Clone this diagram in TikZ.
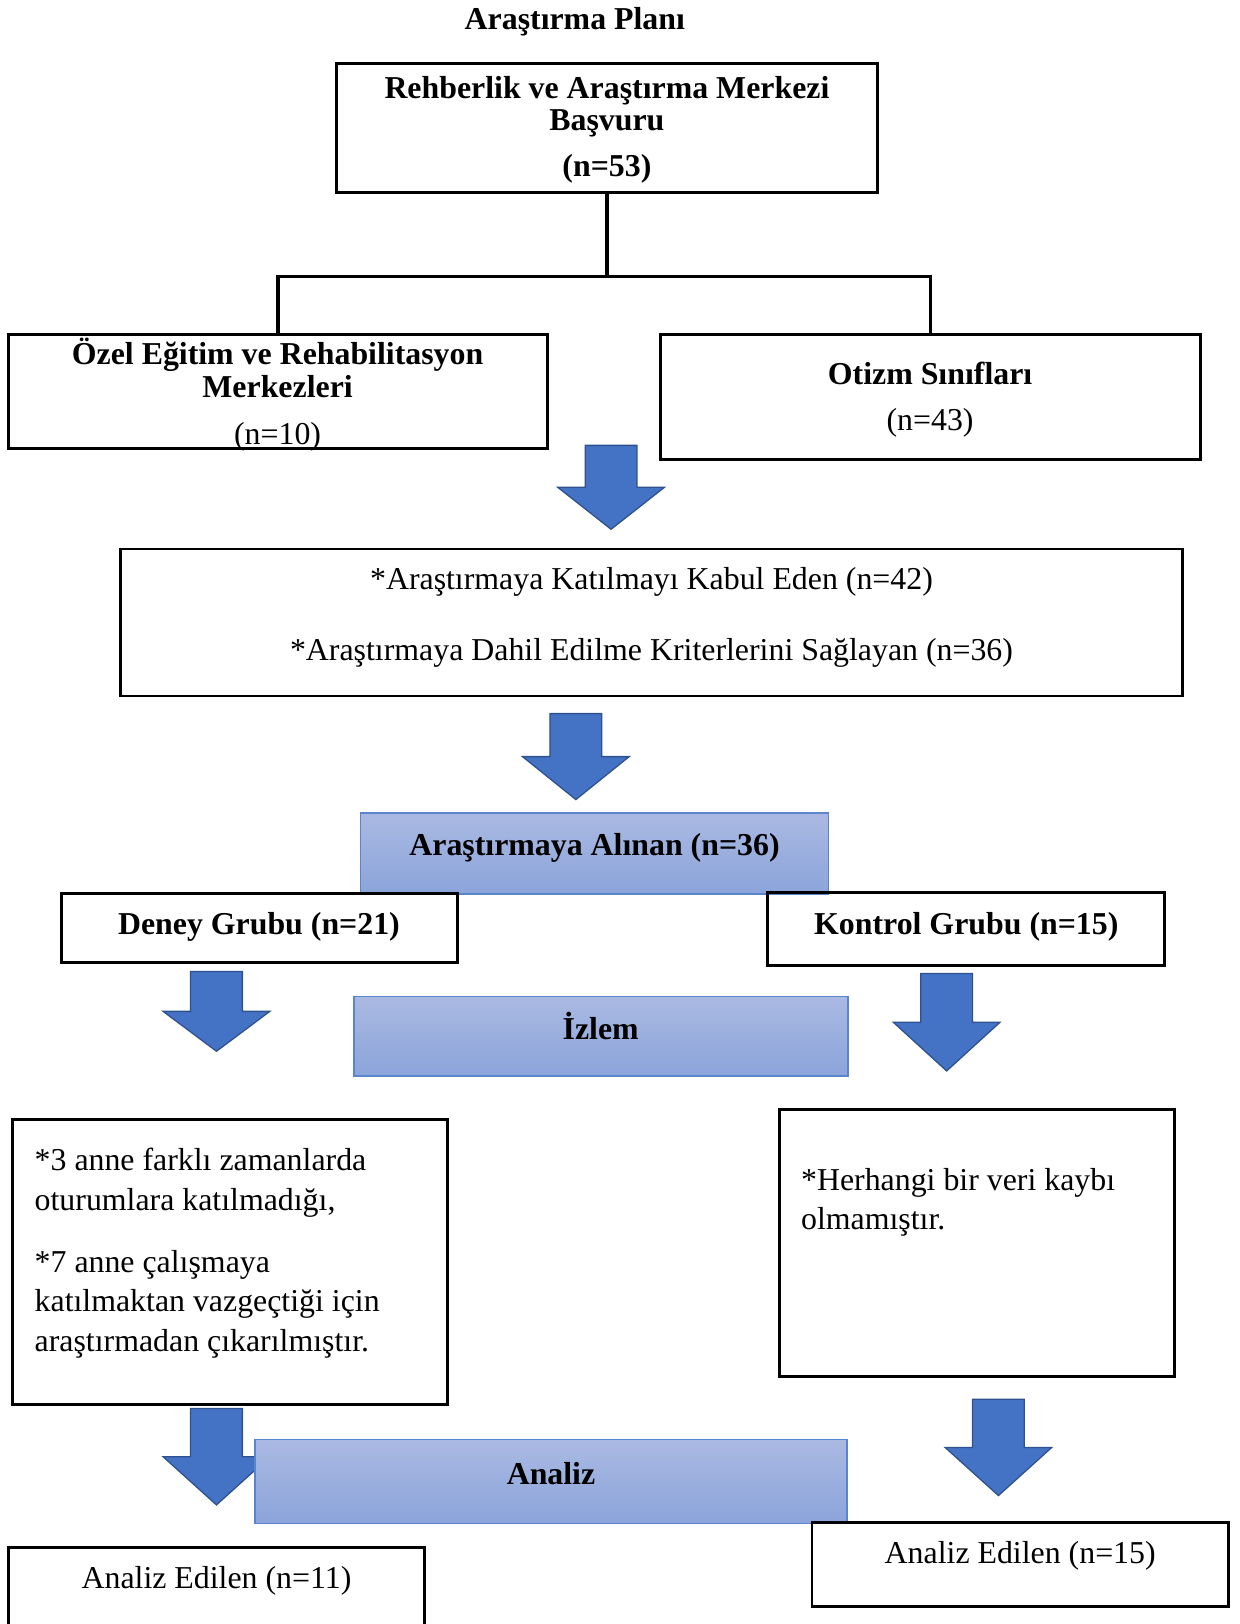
\documentclass[tikz,border=0pt]{standalone}
\usepackage{fontspec}
\setmainfont{Liberation Serif}
\usepackage{xcolor}
\usetikzlibrary{fit}

\definecolor{arrowblue}{HTML}{4472C4}
\definecolor{arrowedge}{HTML}{2F528F}
\definecolor{shadetop}{HTML}{AAB9E2}
\definecolor{shadebot}{HTML}{8BA4DA}
\definecolor{shadeedge}{HTML}{5B84CF}

\begin{document}
\begin{tikzpicture}[x=0.4pt,y=-0.4pt,font=\fontsize{12.3}{15.2}\selectfont]
  \tikzstyle{frame}=[draw,line width=1.1pt,inner sep=0pt]
  \tikzstyle{shaded}=[draw=shadeedge,line width=0.6pt,inner sep=0pt,top color=shadetop,bottom color=shadebot]
  \tikzstyle{blockarrow}=[fill=arrowblue,draw=arrowedge,line width=0.5pt]
  \tikzstyle{heading}=[font=\fontsize{12.3}{12.6}\selectfont\bfseries,align=center,inner sep=0pt]
  \tikzstyle{plain}=[font=\fontsize{12.3}{12.6}\selectfont,align=center,inner sep=0pt]
  \tikzstyle{notes}=[align=left,inner sep=0pt,anchor=west]
  \useasboundingbox (0,0) rectangle (1197,1568);

  % block arrows (drawn first, the Analiz band lies over one of them)
  \foreach \ax/\ay/\al in {590/430/81,556/689/83,209/938/77,914/940/94,209/1360/93,964/1351/93}
    \path[blockarrow] (\ax-25,\ay) -- (\ax+25,\ay) -- (\ax+25,\ay+\al/2) -- (\ax+51.5,\ay+\al/2)
      -- (\ax,\ay+\al) -- (\ax-51.5,\ay+\al/2) -- (\ax-25,\ay+\al/2) -- cycle;

  \node[heading] (plan) at (555,21) {Araştırma Planı};

  \node[frame,fit={(325,61) (847,186)}] (basvuru) {};
  \node[heading] (basvuruT) at (586,125) {Rehberlik ve Araştırma Merkezi\\Başvuru\\[5pt](n=53)};

  \node[frame,fit={(8,323) (529,433)}] (ozel) {};
  \node[plain] (ozelT) at (268,381) {\textbf{Özel Eğitim ve Rehabilitasyon}\\\textbf{Merkezleri}\\[5.4pt](n=10)};

  \node[frame,fit={(638,323) (1159,444)}] (otizm) {};
  \node[plain] (otizmT) at (898,386) {\textbf{Otizm Sınıfları}\\[5.4pt](n=43)};

  \coordinate (split) at (586,267);
  \draw[line width=1.3pt] (basvuru.south) -- (split);
  \draw[line width=1.3pt] (ozel.north) |- (split) -| (otizm.north);

  \node[frame,fit={(116,530) (1142,672)}] (kabul) {};
  \node[align=center,inner sep=0pt] (kabulT) at (629,596) {*Araştırmaya Katılmayı Kabul Eden (n=42)\\[12.4pt]*Araştırmaya Dahil Edilme Kriterlerini Sağlayan (n=36)};

  \node[shaded,fit={(348,785) (800,863)}] (alinan) {};
  \node[heading] (alinanT) at (574,819) {Araştırmaya Alınan (n=36)};

  \node[frame,fit={(59,863) (442,929)}] (deney) {};
  \node[heading] (deneyT) at (250,895) {Deney Grubu (n=21)};

  \node[frame,fit={(741,862) (1124,932)}] (kontrol) {};
  \node[heading] (kontrolT) at (933,895) {Kontrol Grubu (n=15)};

  \node[shaded,fit={(342,962) (819,1039)}] (izlem) {};
  \node[heading] (izlemT) at (580,991) {İzlem};

  \node[frame,fit={(12,1081) (432,1356)}] (kayipD) {};
  \node[notes] (kayipDT) at (33,1210) {*3 anne farklı zamanlarda\\oturumlara katılmadığı,\\[8.8pt]*7 anne çalışmaya\\katılmaktan vazgeçtiği için\\araştırmadan çıkarılmıştır.};

  \node[frame,fit={(753,1071) (1134,1329)}] (kayipK) {};
  \node[notes] (kayipKT) at (773,1161) {*Herhangi bir veri kaybı\\olmamıştır.};

  \node[shaded,fit={(246,1390) (818,1471)}] (analiz) {};
  \node[heading] (analizT) at (532,1423) {Analiz};

  \node[frame,fit={(8,1494) (410,1590)}] (sonD) {};
  \node[inner sep=0pt] (sonDT) at (209,1526) {Analiz Edilen (n=11)};

  \node[frame,fit={(784,1470) (1186,1551)}] (sonK) {};
  \node[inner sep=0pt] (sonKT) at (985,1502) {Analiz Edilen (n=15)};
\end{tikzpicture}
\end{document}
